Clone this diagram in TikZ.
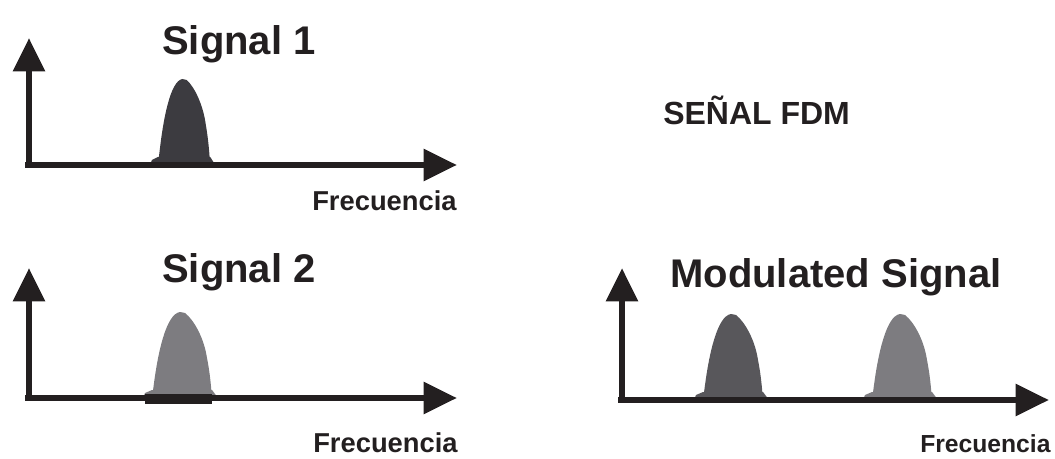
\documentclass[tikz,border=0pt]{standalone}
\usepackage{fontspec}
\setmainfont{Liberation Sans}
\usetikzlibrary{arrows.meta}
\definecolor{ink}{HTML}{231F20}
\definecolor{pdark}{HTML}{3C3B40}
\definecolor{pmid}{HTML}{58575B}
\definecolor{pgray}{HTML}{7D7C80}
\begin{document}
\begin{tikzpicture}[x=0.75pt,y=-0.75pt,
  axis/.style={draw=ink,line width=5pt,-{Triangle[width=23pt,length=25pt]}},
  title/.style={anchor=base west,inner sep=0pt,text=ink,font=\bfseries\fontsize{30}{36}\selectfont},
  freq/.style={anchor=base west,inner sep=0pt,text=ink,font=\bfseries\fontsize{20.5}{24}\selectfont},
  pics/pulse/.style={code={
    \fill[#1] (-9,0) -- (-7,-5) -- (0,-8) -- (60,-8) -- (66,0) -- cycle;
    \fill[#1] (0,0) -- (2,-15) .. controls (6,-45) and (14,-84) .. (28,-86)
      -- (33,-85) .. controls (42,-78) and (52,-60) .. (55,-40)
      .. controls (58,-25) and (59,-12) .. (60,0) -- cycle;
  }}]
\useasboundingbox (0,0) rectangle (1055,459);
% Panel 1
\coordinate (o1) at (29,165);
\coordinate (y1) at (29,38);
\coordinate (x1s) at (25,165);
\coordinate (x1) at (457,165);
\pic at (158,165) [xscale=0.87] {pulse=pdark};
\draw[axis] (o1) -- (y1);
\draw[axis] (x1s) -- (x1);
\node[title] (t1) at (162,55) {Signal 1};
\node[freq] (f1) at (312,211) {Frecuencia};
% Panel 2
\coordinate (o2) at (29,400);
\coordinate (y2) at (29,268);
\coordinate (x2s) at (25,398);
\coordinate (x2) at (457,398);
\pic at (152,398) {pulse=pgray};
\draw[axis] (o2) -- (y2);
\draw[axis] (x2s) -- (x2);
\fill[ink] (145,394) rectangle (212,404);
\node[title] (t2) at (162,282) {Signal 2};
\node[freq] (f2) at (313,452) {Frecuencia};
% Panel 3
\coordinate (o3) at (622,402);
\coordinate (y3) at (622,268);
\coordinate (x3s) at (618,400);
\coordinate (x3) at (1049,400);
\pic at (703,400) {pulse=pmid};
\pic at (872,400) {pulse=pgray};
\draw[axis] (o3) -- (y3);
\draw[axis] (x3s) -- (x3);
\node[title] (t3) at (670,287) {Modulated Signal};
\node[freq,font=\bfseries\fontsize{18.5}{22}\selectfont] (f3) at (920,452) {Frecuencia};
% FDM label
\node[anchor=base west,inner sep=0pt,text=ink,font=\bfseries\fontsize{24}{28}\selectfont] (fdm) at (663,125) {SEÑAL FDM};
\end{tikzpicture}
\end{document}
